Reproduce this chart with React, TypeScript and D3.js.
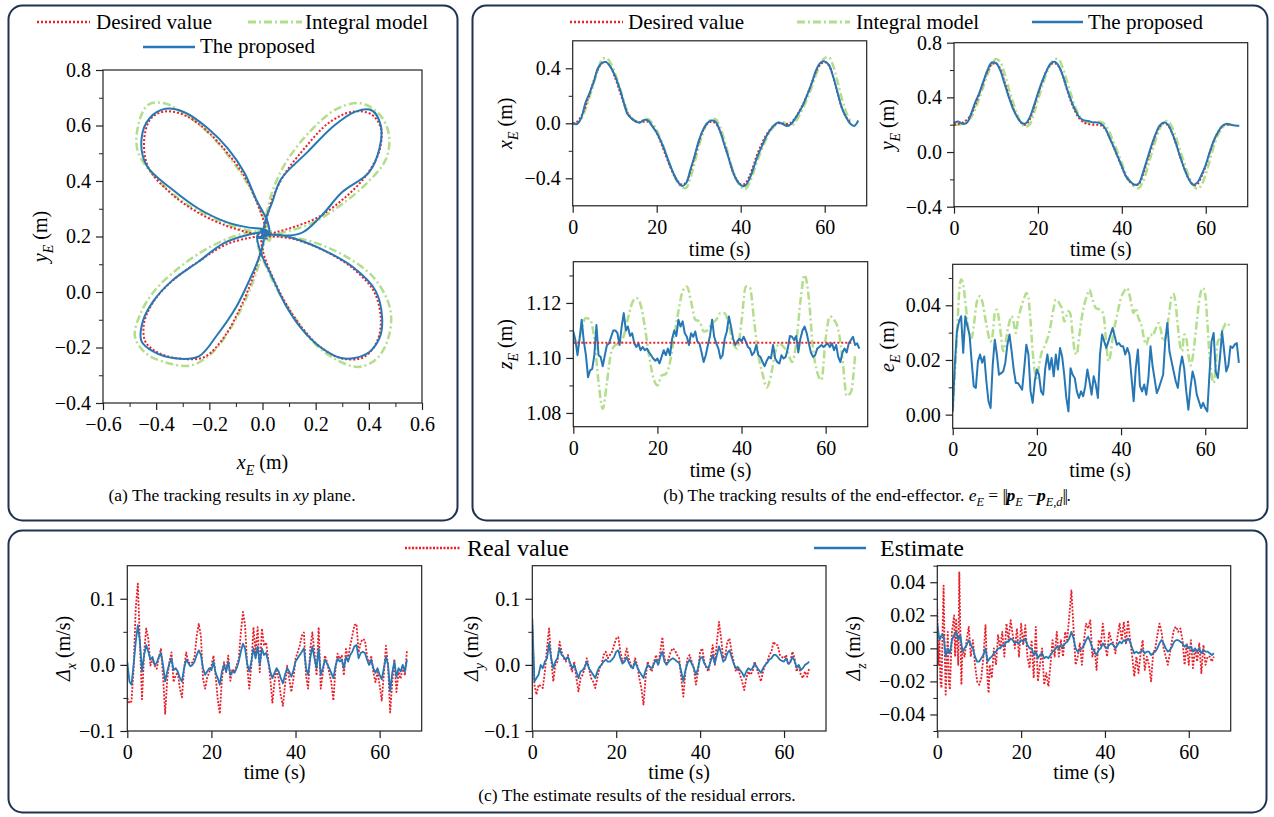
import React, { useEffect, useRef } from 'react';
import * as d3 from 'd3';

const FONT = 'Liberation Serif, DejaVu Serif, serif';
const RED = '#e8202a';
const GREEN = '#b3de8c';
const BLUE = '#2677b5';
const NAVY = '#1e3354';

// ---- end-effector trajectory, one sample per second ----
const xDesired = [
  0.0, 0.01, 0.05, 0.12, 0.21, 0.31, 0.39, 0.44, 0.445, 0.41,
  0.34, 0.25, 0.16, 0.08, 0.035, 0.015, 0.008, 0.012, 0.01, -0.02,
  -0.07, -0.14, -0.22, -0.30, -0.37, -0.42, -0.445, -0.43, -0.35, -0.25,
  -0.14, -0.055, -0.005, 0.012, 0.0, -0.05, -0.14, -0.24, -0.34, -0.41,
  -0.445, -0.44, -0.39, -0.31, -0.22, -0.15, -0.09, -0.045, -0.015, 0.0,
  -0.002, -0.005, 0.005, 0.04, 0.09, 0.15, 0.22, 0.30, 0.38, 0.43,
  0.445, 0.42, 0.34, 0.23, 0.12, 0.05, 0.01,
];
const yDesired = [
  0.2, 0.205, 0.215, 0.235, 0.27, 0.34, 0.42, 0.51, 0.59, 0.64,
  0.65, 0.61, 0.52, 0.42, 0.33, 0.26, 0.215, 0.2, 0.235, 0.32,
  0.42, 0.51, 0.59, 0.64, 0.65, 0.625, 0.55, 0.45, 0.36, 0.29,
  0.24, 0.215, 0.205, 0.2, 0.2, 0.195, 0.17, 0.11, 0.04, -0.035,
  -0.11, -0.18, -0.22, -0.24, -0.235, -0.17, -0.07, 0.03, 0.12, 0.185,
  0.21, 0.195, 0.135, 0.05, -0.045, -0.13, -0.2, -0.24, -0.235, -0.18,
  -0.1, 0.0, 0.085, 0.15, 0.19, 0.2, 0.2,
];
const xIntegral = [
  0.0, 0.0, 0.03, 0.1, 0.19, 0.29, 0.39, 0.465, 0.475, 0.44,
  0.37, 0.28, 0.18, 0.09, 0.04, 0.015, 0.01, 0.025, 0.03, 0.0,
  -0.05, -0.12, -0.2, -0.29, -0.37, -0.43, -0.465, -0.47, -0.4, -0.29,
  -0.17, -0.07, 0.0, 0.03, 0.03, -0.02, -0.11, -0.22, -0.33, -0.41,
  -0.46, -0.48, -0.44, -0.36, -0.27, -0.19, -0.12, -0.06, -0.02, 0.005,
  0.01, -0.01, -0.02, 0.01, 0.06, 0.12, 0.19, 0.27, 0.36, 0.43,
  0.475, 0.48, 0.42, 0.31, 0.19, 0.09, 0.02,
];
const yIntegral = [
  0.2, 0.2, 0.205, 0.22, 0.25, 0.31, 0.39, 0.48, 0.57, 0.64,
  0.68, 0.66, 0.58, 0.47, 0.37, 0.28, 0.215, 0.185, 0.2, 0.28,
  0.38, 0.48, 0.57, 0.64, 0.68, 0.675, 0.61, 0.51, 0.41, 0.32,
  0.26, 0.225, 0.215, 0.215, 0.22, 0.22, 0.2, 0.15, 0.075, 0.0,
  -0.08, -0.16, -0.22, -0.255, -0.265, -0.22, -0.13, -0.02, 0.08, 0.17,
  0.22, 0.225, 0.18, 0.1, 0.0, -0.09, -0.18, -0.24, -0.27, -0.24,
  -0.16, -0.06, 0.05, 0.13, 0.18, 0.2, 0.2,
];
const xProposed = [
  0.0, -0.005, 0.036, 0.145, 0.22, 0.30, 0.40, 0.44, 0.445, 0.41,
  0.35, 0.27, 0.17, 0.07, 0.036, 0.012, 0.005, 0.024, 0.02, -0.024,
  -0.068, -0.13, -0.206, -0.29, -0.364, -0.424, -0.455, -0.436, -0.34, -0.24,
  -0.13, -0.05, 0.0, 0.02, 0.012, -0.05, -0.145, -0.24, -0.34, -0.41,
  -0.45, -0.455, -0.41, -0.33, -0.24, -0.17, -0.1, -0.05, -0.012, 0.005,
  -0.005, -0.02, -0.005, 0.036, 0.085, 0.145, 0.22, 0.30, 0.39, 0.44,
  0.45, 0.425, 0.34, 0.23, 0.12, 0.05, 0.0, -0.02, 0.02,
];
const yProposed = [
  0.212, 0.224, 0.207, 0.212, 0.273, 0.36, 0.43, 0.517, 0.60, 0.655,
  0.65, 0.60, 0.505, 0.407, 0.322, 0.26, 0.217, 0.207, 0.25, 0.334,
  0.43, 0.517, 0.59, 0.646, 0.66, 0.627, 0.553, 0.456, 0.37, 0.30,
  0.25, 0.232, 0.227, 0.217, 0.217, 0.207, 0.176, 0.11, 0.041, -0.032,
  -0.105, -0.178, -0.215, -0.239, -0.232, -0.154, -0.056, 0.041, 0.127, 0.193,
  0.217, 0.20, 0.139, 0.054, -0.044, -0.13, -0.20, -0.239, -0.224, -0.166,
  -0.093, 0.005, 0.09, 0.151, 0.193, 0.207, 0.20, 0.195, 0.193,
];

// ---- z_E and e_E ----
const zDesired = 1.1055;
const zIntegral = [
  1.107, 1.1047, 1.1108, 1.1145, 1.1139, 1.107, 1.0912, 1.0815, 1.0912, 1.102,
  1.1047, 1.1053, 1.108, 1.1145, 1.12, 1.1218, 1.1194, 1.1114, 1.101, 1.093,
  1.090, 1.0936, 1.0942, 1.0985, 1.108, 1.117, 1.1243, 1.126, 1.1206, 1.1139,
  1.1133, 1.1096, 1.1102, 1.1126, 1.1139, 1.1163, 1.1163, 1.112, 1.1053, 1.1034,
  1.1133, 1.126, 1.1255, 1.1133, 1.101, 1.0942, 1.0893, 1.0936, 1.102, 1.1053,
  1.104, 1.102, 1.0985, 1.1053, 1.1206, 1.1302, 1.1218, 1.1034, 1.0948, 1.092,
  1.107, 1.1151, 1.1139, 1.1102, 1.0998, 1.0862, 1.0875, 1.101,
];
// half-second samples
const zProposed = [
  1.1096, 1.1065, 1.101, 1.107, 1.1139, 1.106, 1.101, 1.093, 1.0955, 1.096,
  1.101, 1.112, 1.101, 1.1004, 1.097, 1.101, 1.1047, 1.1053, 1.1077, 1.110,
  1.110, 1.109, 1.1047, 1.1114, 1.1163, 1.110, 1.1114, 1.108, 1.109, 1.1053,
  1.104, 1.1053, 1.1028, 1.104, 1.1028, 1.1034, 1.102, 1.101, 1.0998, 1.099,
  1.0998, 1.098, 1.1004, 1.1028, 1.101, 1.1034, 1.101, 1.107, 1.110, 1.108,
  1.1139, 1.1114, 1.1133, 1.109, 1.1077, 1.1047, 1.109, 1.1077, 1.1096, 1.106,
  1.1053, 1.102, 1.0985, 1.101, 1.1047, 1.108, 1.1139, 1.1077, 1.1053, 1.1034,
  1.0998, 1.101, 1.107, 1.1096, 1.1151, 1.1114, 1.107, 1.1047, 1.106, 1.107,
  1.106, 1.1077, 1.106, 1.104, 1.1034, 1.101, 1.102, 1.1047, 1.101, 1.1004,
  1.0985, 1.097, 1.099, 1.1004, 1.0998, 1.1047, 1.0998, 1.0985, 1.098, 1.101,
  1.0998, 1.1004, 1.1034, 1.108, 1.1077, 1.1065, 1.108, 1.102, 1.107, 1.110,
  1.1114, 1.109, 1.1053, 1.102, 1.1004, 1.101, 1.1034, 1.104, 1.1047, 1.104,
  1.1047, 1.1053, 1.104, 1.1053, 1.1028, 1.1047, 1.1004, 1.0985, 1.102, 1.1034,
  1.102, 1.1053, 1.1065, 1.1077, 1.1047, 1.1053, 1.1034,
];
const eProposed = [
  0.0012, 0.018, 0.0305, 0.034, 0.036, 0.0226, 0.036, 0.0323, 0.0293, 0.0195,
  0.0104, 0.0098, 0.0195, 0.022, 0.019, 0.0213, 0.0122, 0.0049, 0.0024, 0.018,
  0.0274, 0.022, 0.0146, 0.0152, 0.0158, 0.019, 0.0256, 0.0293, 0.0232, 0.0165,
  0.0116, 0.0116, 0.0104, 0.0091, 0.017, 0.0256, 0.022, 0.0085, 0.0043, 0.0122,
  0.0165, 0.0146, 0.0085, 0.0073, 0.017, 0.022, 0.0165, 0.0207, 0.014, 0.022,
  0.0165, 0.0244, 0.0213, 0.0146, 0.0061, 0.0012, 0.017, 0.0146, 0.0134, 0.0085,
  0.0061, 0.0085, 0.0067, 0.0104, 0.0165, 0.0122, 0.0073, 0.014, 0.011, 0.0061,
  0.022, 0.0293, 0.0268, 0.0244, 0.0268, 0.0293, 0.0317, 0.0287, 0.0256, 0.0262,
  0.025, 0.025, 0.022, 0.0244, 0.022, 0.0134, 0.0049, 0.017, 0.0238, 0.0104,
  0.0085, 0.011, 0.0073, 0.0134, 0.025, 0.0177, 0.0128, 0.0079, 0.0098, 0.0122,
  0.0146, 0.0268, 0.0335, 0.0232, 0.0195, 0.0158, 0.0122, 0.0098, 0.017, 0.0213,
  0.017, 0.0085, 0.0018, 0.0098, 0.0158, 0.0128, 0.0073, 0.0049, 0.0024, 0.0043,
  0.0024, 0.0012, 0.0146, 0.0268, 0.0299, 0.0158, 0.0134, 0.0207, 0.0305, 0.0232,
  0.0158, 0.018, 0.025, 0.0244, 0.0256, 0.0262, 0.0189,
];
// [time, value]
const eIntegral: [number, number][] = [
  [0, 0.001], [0.5, 0.0146], [1, 0.028], [1.5, 0.0439], [2, 0.0494], [2.5, 0.0476], [3, 0.0415], [3.5, 0.034],
  [4, 0.0287], [4.5, 0.028], [5, 0.0323], [5.5, 0.039], [6, 0.0427], [6.5, 0.0433], [7, 0.0415], [8, 0.033],
  [9, 0.0268], [9.5, 0.0293], [10, 0.0372], [10.5, 0.0384], [11, 0.0348], [11.5, 0.0287], [12, 0.0232], [12.5, 0.0256],
  [13, 0.0305], [13.5, 0.034], [14, 0.036], [14.5, 0.0335], [15, 0.0299], [15.5, 0.0348], [16, 0.0378], [17, 0.0427],
  [17.5, 0.0445], [18, 0.0427], [18.5, 0.034], [19, 0.0232], [19.5, 0.0158], [20, 0.0134], [20.5, 0.018], [21, 0.022],
  [22, 0.0256], [23, 0.0305], [24, 0.039], [24.5, 0.0421], [25, 0.0415], [25.5, 0.0402], [26, 0.0384], [26.5, 0.034],
  [27, 0.036], [27.5, 0.0378], [28, 0.0366], [28.5, 0.0293], [29, 0.0232], [29.5, 0.022], [30, 0.028], [31, 0.0384],
  [32, 0.0439], [32.5, 0.0457], [33, 0.0433], [34, 0.039], [35, 0.0384], [35.5, 0.0378], [36, 0.0348], [36.5, 0.0256],
  [37, 0.0195], [37.5, 0.022], [38, 0.028], [39, 0.036], [40, 0.0427], [41, 0.0457], [41.5, 0.0463], [42, 0.0439],
  [43, 0.0372], [43.5, 0.039], [44, 0.036], [45, 0.0317], [45.5, 0.0274], [46, 0.0256], [46.5, 0.028], [47, 0.0293],
  [47.5, 0.0287], [48, 0.0305], [48.5, 0.0323], [49, 0.0335], [49.5, 0.0305], [50, 0.0268], [50.5, 0.028], [51, 0.0323],
  [51.5, 0.0378], [52, 0.0433], [52.5, 0.0441], [53, 0.0402], [53.5, 0.0323], [54, 0.0256], [54.5, 0.0232], [55, 0.0293],
  [55.5, 0.028], [56, 0.022], [56.5, 0.018], [57, 0.0207], [57.5, 0.0268], [58, 0.034], [58.5, 0.0409], [59, 0.0451],
  [59.5, 0.0463], [60, 0.0439], [60.5, 0.034], [61, 0.022], [61.5, 0.0146], [62, 0.0116], [62.5, 0.018], [63, 0.0268],
  [63.5, 0.028], [64, 0.0305], [64.5, 0.0323], [65, 0.0335], [65.5, 0.0329], [66, 0.0335],
];

// ---- residual errors, half-second samples ----
const dxReal = [
  -0.05, -0.058, -0.055, -0.006, 0.085, 0.123, 0.034, -0.052, 0.019, 0.055,
  0.039, -0.001, 0.009, -0.001, -0.006, 0.012, 0.024, -0.016, -0.074, -0.021,
  0.004, 0.019, -0.026, -0.016, -0.011, -0.036, -0.049, -0.006, 0.019, 0.004,
  0.002, 0.004, 0.012, 0.044, 0.062, 0.044, -0.021, -0.036, -0.019, -0.011,
  -0.001, 0.014, -0.016, -0.052, -0.074, -0.021, 0.004, -0.011, 0.014, -0.024,
  -0.006, -0.011, -0.001, 0.009, 0.049, 0.080, 0.06, -0.001, -0.036, -0.001,
  0.057, 0.019, 0.057, -0.011, 0.055, 0.029, 0.034, 0.009, -0.021, -0.057,
  -0.026, -0.006, -0.021, -0.046, -0.062, -0.031, -0.001, -0.021, -0.041, -0.021,
  0.009, 0.019, 0.029, 0.044, 0.049, -0.016, -0.036, 0.024, 0.049, 0.019,
  -0.016, 0.057, -0.036, -0.011, 0.014, 0.004, -0.011, -0.026, -0.054, -0.006,
  0.017, 0.009, 0.014, -0.016, 0.024, 0.009, 0.029, 0.044, 0.06, 0.062,
  0.019, 0.034, 0.039, 0.037, 0.014, -0.001, 0.014, -0.011, -0.026, -0.011,
  -0.031, -0.054, -0.014, 0.029, -0.001, -0.072, -0.026, 0.009, -0.041, -0.011,
  -0.021, -0.001, -0.016, 0.022,
];
const dxEst = [
  0.005, -0.025, -0.03, 0.0, 0.034, 0.06, 0.035, -0.01, 0.015, 0.03,
  0.02, 0.008, 0.012, 0.0, 0.003, 0.012, 0.018, 0.0, -0.025, -0.01,
  0.002, 0.01, -0.008, -0.005, -0.01, -0.02, -0.025, -0.005, 0.008, 0.003,
  -0.002, 0.0, 0.005, 0.015, 0.022, 0.015, -0.005, -0.015, -0.01, -0.005,
  -0.008, 0.005, -0.012, -0.02, -0.03, -0.01, 0.0, -0.01, 0.005, -0.015,
  -0.01, -0.012, -0.005, 0.005, 0.02, 0.032, 0.025, 0.002, -0.01, 0.005,
  0.025, 0.01, 0.028, 0.0, 0.025, 0.015, 0.018, 0.005, -0.01, -0.02,
  -0.012, -0.005, -0.01, -0.02, -0.028, -0.015, -0.005, -0.01, -0.018, -0.008,
  0.005, 0.01, 0.015, 0.02, 0.025, -0.005, -0.015, 0.01, 0.028, 0.01,
  -0.005, 0.025, -0.015, -0.005, 0.008, 0.002, -0.005, -0.012, -0.02, -0.002,
  0.01, 0.005, 0.008, -0.005, 0.012, 0.005, 0.015, 0.02, 0.028, 0.03,
  0.01, 0.018, 0.02, 0.018, 0.008, 0.0, 0.008, -0.005, -0.012, -0.005,
  -0.015, -0.022, -0.005, 0.012, 0.0, -0.04, -0.012, 0.005, -0.018, -0.005,
  -0.01, 0.0, -0.01, 0.008,
];
const dyReal = [
  0.06, -0.03, -0.045, -0.03, -0.032, -0.035, -0.01, 0.025, 0.055, 0.01,
  -0.025, 0.0, 0.005, 0.035, 0.02, 0.01, 0.005, 0.015, 0.0, -0.01,
  0.005, -0.02, -0.04, -0.02, -0.015, -0.005, 0.01, -0.005, -0.02, -0.025,
  -0.035, -0.02, -0.005, 0.0, 0.015, 0.02, 0.01, 0.015, 0.02, 0.03,
  0.04, 0.042, 0.02, 0.005, 0.01, 0.025, 0.01, 0.0, -0.005, 0.01,
  0.0, -0.02, -0.035, -0.06, -0.02, 0.005, -0.005, -0.01, 0.005, 0.015,
  0.0, 0.02, 0.042, 0.01, 0.0, 0.01, 0.02, 0.025, 0.022, 0.015,
  0.01, -0.02, -0.048, -0.01, 0.01, 0.015, 0.005, -0.005, -0.03, -0.01,
  0.02, 0.025, 0.005, -0.005, -0.01, 0.01, 0.03, 0.0, 0.035, 0.065,
  0.04, 0.01, 0.015, 0.035, 0.04, 0.02, 0.005, -0.01, -0.005, -0.015,
  -0.025, -0.038, -0.02, -0.01, -0.015, -0.01, 0.005, -0.005, -0.015, -0.025,
  -0.01, 0.0, 0.005, 0.015, 0.02, 0.035, 0.03, 0.03, 0.015, 0.012,
  0.01, 0.015, 0.0, 0.005, 0.02, 0.01, -0.01, 0.0, -0.015, -0.02,
  -0.01, -0.018, -0.005,
];
const dyEst = [
  0.07, -0.025, -0.02, -0.015, 0.0, -0.005, 0.005, 0.01, 0.032, 0.01,
  -0.005, 0.005, 0.01, 0.025, 0.015, 0.012, 0.008, 0.012, 0.003, -0.005,
  0.0, -0.01, -0.02, -0.01, -0.008, -0.003, 0.005, -0.005, -0.01, -0.015,
  -0.02, -0.01, -0.003, 0.0, 0.005, 0.008, 0.005, 0.005, 0.008, 0.012,
  0.02, 0.022, 0.01, 0.002, 0.005, 0.012, 0.003, -0.003, -0.005, 0.005,
  -0.003, -0.01, -0.015, -0.02, -0.008, 0.0, -0.003, -0.005, 0.002, 0.008,
  0.0, 0.012, 0.02, 0.005, 0.0, 0.005, 0.008, 0.01, 0.008, 0.005,
  0.003, -0.01, -0.025, -0.008, 0.003, 0.008, 0.002, -0.005, -0.015, -0.005,
  0.01, 0.012, 0.002, -0.003, -0.005, 0.005, 0.015, 0.002, 0.015, 0.028,
  0.018, 0.005, 0.008, 0.018, 0.022, 0.012, 0.002, -0.005, -0.003, -0.008,
  -0.012, -0.018, -0.01, -0.005, -0.008, -0.005, 0.002, -0.003, -0.008, -0.012,
  -0.005, 0.0, 0.003, 0.008, 0.01, 0.015, 0.015, 0.012, 0.008, 0.006,
  0.005, 0.01, 0.002, 0.004, 0.012, 0.006, -0.004, 0.0, -0.008, -0.005,
  0.0, 0.002, 0.005,
];
const dzReal: [number, number][] = [
  [0, 0.024], [0.25, -0.01], [0.5, 0.005], [0.75, -0.02], [1, -0.024], [1.25, 0.01], [1.5, 0.038], [1.75, 0.0],
  [2, -0.028], [2.5, 0.01], [2.75, -0.02], [3, -0.025], [3.5, 0.01], [4, 0.02], [4.25, -0.005], [4.5, 0.018],
  [5, -0.01], [5.25, 0.046], [5.5, 0.01], [5.75, -0.022], [6, 0.0], [6.5, -0.005], [7, 0.005], [7.5, 0.013],
  [8, -0.005], [8.5, 0.005], [9, -0.01], [9.5, -0.02], [10, -0.022], [10.5, -0.018], [11, -0.005], [11.5, 0.014],
  [12, -0.02], [12.25, -0.027], [12.5, -0.01], [13, -0.018], [13.5, 0.0], [14, -0.01], [14.5, 0.008], [15, 0.0],
  [15.5, 0.01], [16, -0.005], [16.5, 0.015], [17, 0.005], [17.5, 0.017], [18, 0.008], [18.5, 0.0], [19, 0.012],
  [19.5, -0.005], [20, 0.015], [20.5, 0.002], [21, 0.014], [21.5, -0.005], [22, -0.012], [22.5, 0.005], [23, -0.018],
  [23.5, 0.013], [24, -0.02], [24.5, -0.01], [25, 0.0], [25.5, -0.022], [26, -0.015], [26.5, -0.023], [27, -0.01],
  [27.5, 0.005], [28, -0.005], [28.5, 0.01], [29, -0.005], [29.5, 0.005], [30, -0.005], [30.5, 0.01], [31, 0.005],
  [31.5, 0.02], [32, 0.035], [32.5, 0.012], [33, -0.01], [33.5, -0.005], [34, 0.003], [34.5, -0.01], [35, 0.005],
  [35.5, 0.015], [36, 0.012], [36.5, 0.017], [37, -0.005], [37.5, 0.0], [38, -0.013], [38.5, 0.005], [39, 0.002],
  [39.5, 0.015], [40, 0.003], [40.5, -0.005], [41, 0.01], [41.5, 0.005], [42, 0.003], [42.5, -0.003], [43, 0.007],
  [43.5, 0.015], [44, 0.005], [44.5, 0.016], [45, 0.003], [45.5, 0.017], [46, 0.005], [46.5, -0.005], [47, -0.017],
  [47.5, -0.005], [48, -0.015], [48.5, -0.003], [49, 0.005], [49.5, -0.013], [50, -0.005], [50.5, -0.01], [51, -0.02],
  [51.5, -0.003], [52, 0.0], [52.5, 0.008], [53, 0.015], [53.5, 0.01], [54, 0.0], [54.5, -0.005], [55, -0.01],
  [55.5, -0.003], [56, 0.005], [56.5, 0.012], [57, 0.013], [57.5, 0.01], [58, 0.012], [58.5, 0.005], [59, -0.01],
  [59.5, 0.003], [60, -0.01], [60.5, 0.005], [61, -0.012], [61.5, 0.0], [62, -0.008], [62.5, 0.003], [63, -0.015],
  [63.5, 0.002], [64, -0.01], [64.5, -0.005], [65, -0.005], [65.5, -0.008], [66, -0.005],
];
const dzEst = [
  0.015, 0.005, 0.008, 0.008, -0.005, 0.0, -0.003, 0.005, 0.008, 0.01,
  0.005, 0.008, -0.002, 0.0, 0.002, 0.005, 0.002, 0.0, -0.005, -0.008,
  -0.008, -0.006, -0.004, 0.0, -0.008, -0.006, -0.005, -0.003, -0.002, 0.0,
  0.0, 0.002, 0.002, 0.004, 0.004, 0.006, 0.005, 0.003, 0.004, 0.003,
  0.005, 0.004, 0.006, 0.002, 0.0, 0.0, -0.004, -0.002, -0.006, -0.004,
  -0.003, -0.006, -0.005, -0.006, -0.004, -0.002, -0.001, 0.001, 0.0, 0.002,
  0.001, 0.003, 0.004, 0.006, 0.01, 0.006, 0.0, -0.002, -0.001, 0.0,
  0.002, 0.005, 0.007, 0.004, 0.0, -0.002, -0.004, -0.001, 0.0, 0.003,
  0.001, 0.0, 0.002, 0.003, 0.002, 0.0, 0.002, 0.004, 0.003, 0.005,
  0.004, 0.006, 0.004, 0.0, -0.003, -0.002, -0.003, -0.002, -0.001, -0.003,
  -0.002, -0.002, -0.004, -0.003, -0.002, 0.0, 0.003, 0.005, 0.003, 0.0,
  -0.002, -0.001, 0.001, 0.004, 0.005, 0.005, 0.004, 0.003, 0.001, 0.002,
  0.0, 0.001, -0.002, 0.0, -0.002, 0.0, -0.003, -0.001, -0.002, -0.002,
  -0.003, -0.004, -0.003,
];

// ---- ticks ----
const timeTicks = [0, 20, 40, 60];
const xyTicksX = [-0.6, -0.4, -0.2, 0, 0.2, 0.4, 0.6];
const xyMinorX = [-0.5, -0.3, -0.1, 0.1, 0.3, 0.5];
const xyTicksY = [-0.4, -0.2, 0, 0.2, 0.4, 0.6, 0.8];
const xyMinorY = [-0.3, -0.1, 0.1, 0.3, 0.5, 0.7];
const xeTicks = [-0.4, 0, 0.4];
const xeMinor = [-0.2, 0.2];
const yeTicks = [-0.4, 0, 0.4, 0.8];
const yeMinor = [-0.2, 0.2, 0.6];
const zeTicks = [1.08, 1.1, 1.12];
const zeMinor = [1.09, 1.11, 1.13];
const eeTicks = [0, 0.02, 0.04];
const eeMinor = [0.01, 0.03, 0.05];
const dTicks = [-0.1, 0, 0.1];
const dMinor = [-0.05, 0.05];
const dzTicks = [-0.04, -0.02, 0, 0.02, 0.04];
const dzMinor = [-0.05, -0.03, -0.01, 0.01, 0.03, 0.05];

type Pt = [number, number];
type Part = { t: string; i?: boolean; b?: boolean; sub?: boolean; ls?: number };
type Series = { pts: Pt[]; color: string; width: number; dash?: string; curve?: d3.CurveFactory };

const toPts = (vals: number[], step: number): Pt[] => vals.map((v, i) => [i * step, v]);

const desiredStyle = { color: RED, width: 2, dash: '2,2' };
const integralStyle = { color: GREEN, width: 2.5, dash: '8,3,2,3' };
const proposedStyle = { color: BLUE, width: 2 };

function rich(text: any, parts: Part[], size: number) {
  let inSub = false;
  parts.forEach((p) => {
    const ts = text.append('tspan').text(p.t);
    if (p.i) ts.attr('font-style', 'italic');
    if (p.b) ts.attr('font-weight', 'bold');
    if (p.ls !== undefined) ts.attr('letter-spacing', p.ls);
    if (p.sub) {
      ts.attr('font-size', size * 0.7);
      if (!inSub) ts.attr('dy', size * 0.28);
      inSub = true;
    } else if (inSub) {
      ts.attr('dy', -size * 0.28);
      inSub = false;
    }
  });
}

type AxesCfg = {
  x0: number; x1: number; y0: number; y1: number;
  xDomain: [number, number]; yDomain: [number, number];
  xTicks: number[]; yTicks: number[]; xMinor?: number[]; yMinor?: number[];
  xFmt: string; yFmt: string;
  xLabel: Part[]; yLabel: Part[]; yLabelX: number; xLabelY: number;
  series: Series[];
};

let clipCount = 0;

function drawAxes(svg: any, c: AxesCfg) {
  const w = c.x1 - c.x0;
  const h = c.y1 - c.y0;
  const xs = d3.scaleLinear().domain(c.xDomain).range([0, w]);
  const ys = d3.scaleLinear().domain(c.yDomain).range([h, 0]);
  const g = svg.append('g').attr('transform', `translate(${c.x0},${c.y0})`);

  const id = `clip-${clipCount++}`;
  g.append('clipPath').attr('id', id).append('rect').attr('width', w).attr('height', h);
  const plot = g.append('g').attr('clip-path', `url(#${id})`);
  c.series.forEach((s) => {
    const line = d3.line<Pt>()
      .x((d) => xs(d[0]))
      .y((d) => ys(d[1]))
      .curve(s.curve || d3.curveLinear);
    plot.append('path')
      .datum(s.pts)
      .attr('d', line)
      .attr('fill', 'none')
      .attr('stroke', s.color)
      .attr('stroke-width', s.width)
      .attr('stroke-dasharray', s.dash || null)
      .attr('stroke-linejoin', 'round');
  });

  g.append('rect')
    .attr('width', w).attr('height', h)
    .attr('fill', 'none').attr('stroke', '#222').attr('stroke-width', 1.2);

  const fs = 20;
  const xa = g.append('g').attr('transform', `translate(0,${h})`)
    .call(d3.axisBottom(xs).tickValues(c.xTicks).tickFormat(d3.format(c.xFmt) as any).tickSize(7).tickPadding(28 - 7 - 0.71 * fs));
  xa.select('.domain').remove();
  xa.attr('font-family', FONT).attr('font-size', fs);
  xa.selectAll('line').attr('stroke', '#222').attr('stroke-width', 1.2);

  const ya = g.append('g')
    .call(d3.axisLeft(ys).tickValues(c.yTicks).tickFormat(d3.format(c.yFmt) as any).tickSize(7).tickPadding(5));
  ya.select('.domain').remove();
  ya.attr('font-family', FONT).attr('font-size', fs);
  ya.selectAll('line').attr('stroke', '#222').attr('stroke-width', 1.2);

  if (c.xMinor) {
    const xm = g.append('g').attr('transform', `translate(0,${h})`)
      .call(d3.axisBottom(xs).tickValues(c.xMinor).tickFormat(() => '').tickSize(4));
    xm.select('.domain').remove();
    xm.selectAll('line').attr('stroke', '#222');
  }
  if (c.yMinor) {
    const ym = g.append('g')
      .call(d3.axisLeft(ys).tickValues(c.yMinor).tickFormat(() => '').tickSize(4));
    ym.select('.domain').remove();
    ym.selectAll('line').attr('stroke', '#222');
  }

  const lfs = 20;
  const xl = svg.append('text')
    .attr('x', c.x0 + w / 2).attr('y', c.xLabelY)
    .attr('text-anchor', 'middle').attr('font-family', FONT).attr('font-size', lfs);
  rich(xl, c.xLabel, lfs);
  const yl = svg.append('text')
    .attr('transform', `translate(${c.yLabelX},${c.y0 + h / 2}) rotate(-90)`)
    .attr('text-anchor', 'middle').attr('font-family', FONT).attr('font-size', lfs);
  rich(yl, c.yLabel, lfs);
}

function legendItem(svg: any, lx0: number, lx1: number, ly: number, tx: number, base: number,
  label: string, st: { color: string; width: number; dash?: string }, fs: number) {
  svg.append('line')
    .attr('x1', lx0).attr('x2', lx1).attr('y1', ly).attr('y2', ly)
    .attr('stroke', st.color).attr('stroke-width', st.width + 0.5)
    .attr('stroke-dasharray', st.dash || null);
  svg.append('text')
    .attr('x', tx).attr('y', base)
    .attr('font-family', FONT).attr('font-size', fs)
    .text(label);
}

const timeLabel: Part[] = [{ t: 'time (s)' }];
const mLabel = (v: string): Part[] => [{ t: v, i: true }, { t: 'E', i: true, sub: true }, { t: ' (m)' }];
const dLabel = (v: string): Part[] => [{ t: 'Δ', i: true }, { t: v, i: true, sub: true }, { t: ' (m/s)' }];

export default function App() {
  const ref = useRef<SVGSVGElement>(null);

  useEffect(() => {
    document.body.style.margin = '0';
    const svg = d3.select(ref.current);
    svg.selectAll('*').remove();
    clipCount = 0;

    // panel frames
    const frames = [
      [8.5, 5.5, 449, 515],
      [472.5, 5.5, 795, 515],
      [8.5, 530.5, 1258, 282],
    ];
    frames.forEach(([x, y, w, h]) => {
      svg.append('rect').attr('x', x).attr('y', y).attr('width', w).attr('height', h)
        .attr('rx', 14).attr('fill', 'none').attr('stroke', NAVY).attr('stroke-width', 2);
    });

    const smooth = d3.curveCatmullRom;

    // (a) xy plane
    drawAxes(svg, {
      x0: 103, x1: 422, y0: 70, y1: 403,
      xDomain: [-0.6, 0.6], yDomain: [-0.4, 0.8],
      xTicks: xyTicksX, yTicks: xyTicksY, xMinor: xyMinorX, yMinor: xyMinorY,
      xFmt: '.1f', yFmt: '.1f',
      xLabel: mLabel('x'), yLabel: mLabel('y'), yLabelX: 47, xLabelY: 469,
      series: [
        { pts: d3.zip(xIntegral, yIntegral) as Pt[], ...integralStyle, curve: smooth },
        { pts: d3.zip(xDesired, yDesired) as Pt[], ...desiredStyle, curve: smooth },
        { pts: d3.zip(xProposed, yProposed) as Pt[], ...proposedStyle, curve: smooth },
      ],
    });

    // (b) x_E
    drawAxes(svg, {
      x0: 572.7, x1: 866.7, y0: 40.8, y1: 205.8,
      xDomain: [0, 70], yDomain: [-0.6, 0.6],
      xTicks: timeTicks, yTicks: xeTicks, yMinor: xeMinor,
      xFmt: 'd', yFmt: '.1f',
      xLabel: timeLabel, yLabel: mLabel('x'), yLabelX: 512, xLabelY: 256,
      series: [
        { pts: toPts(xIntegral, 1), ...integralStyle, curve: smooth },
        { pts: toPts(xDesired, 1), ...desiredStyle, curve: smooth },
        { pts: toPts(xProposed, 1), ...proposedStyle, curve: smooth },
      ],
    });

    // (b) y_E
    drawAxes(svg, {
      x0: 954, x1: 1247.7, y0: 42.7, y1: 206.7,
      xDomain: [0, 70], yDomain: [-0.4, 0.8],
      xTicks: timeTicks, yTicks: yeTicks, yMinor: yeMinor,
      xFmt: 'd', yFmt: '.1f',
      xLabel: timeLabel, yLabel: mLabel('y'), yLabelX: 894, xLabelY: 256,
      series: [
        { pts: toPts(yIntegral, 1), ...integralStyle, curve: smooth },
        { pts: toPts(yDesired, 1), ...desiredStyle, curve: smooth },
        { pts: toPts(yProposed, 1), ...proposedStyle, curve: smooth },
      ],
    });

    // (b) z_E
    drawAxes(svg, {
      x0: 573.3, x1: 867.7, y0: 261.7, y1: 426.7,
      xDomain: [0, 70], yDomain: [1.075, 1.135],
      xTicks: timeTicks, yTicks: zeTicks, yMinor: zeMinor,
      xFmt: 'd', yFmt: '.2f',
      xLabel: timeLabel, yLabel: mLabel('z'), yLabelX: 512, xLabelY: 477,
      series: [
        { pts: toPts(zIntegral, 1), ...integralStyle, curve: d3.curveMonotoneX },
        { pts: toPts(zProposed, 0.5), ...proposedStyle },
        { pts: [[0, zDesired], [66.5, zDesired]], ...desiredStyle },
      ],
    });

    // (b) e_E
    drawAxes(svg, {
      x0: 952.7, x1: 1247.3, y0: 264.3, y1: 428.3,
      xDomain: [0, 70], yDomain: [-0.005, 0.055],
      xTicks: timeTicks, yTicks: eeTicks, yMinor: eeMinor,
      xFmt: 'd', yFmt: '.2f',
      xLabel: timeLabel, yLabel: mLabel('e'), yLabelX: 894, xLabelY: 477,
      series: [
        { pts: eIntegral, ...integralStyle, curve: d3.curveMonotoneX },
        { pts: toPts(eProposed, 0.5), ...proposedStyle },
      ],
    });

    // (c) residual errors
    const realStyle = { color: RED, width: 1.8, dash: '2,1.5' };
    const estStyle = { color: BLUE, width: 1.8 };
    drawAxes(svg, {
      x0: 127.3, x1: 421.7, y0: 565.7, y1: 731,
      xDomain: [0, 70], yDomain: [-0.1, 0.15],
      xTicks: timeTicks, yTicks: dTicks, yMinor: dMinor,
      xFmt: 'd', yFmt: '.1f',
      xLabel: timeLabel, yLabel: dLabel('x'), yLabelX: 70, xLabelY: 779,
      series: [
        { pts: toPts(dxReal, 0.5), ...realStyle },
        { pts: toPts(dxEst, 0.5), ...estStyle },
      ],
    });
    drawAxes(svg, {
      x0: 532.3, x1: 826, y0: 565.7, y1: 731,
      xDomain: [0, 70], yDomain: [-0.1, 0.15],
      xTicks: timeTicks, yTicks: dTicks, yMinor: dMinor,
      xFmt: 'd', yFmt: '.1f',
      xLabel: timeLabel, yLabel: dLabel('y'), yLabelX: 478, xLabelY: 779,
      series: [
        { pts: toPts(dyReal, 0.5), ...realStyle },
        { pts: toPts(dyEst, 0.5), ...estStyle },
      ],
    });
    drawAxes(svg, {
      x0: 937.3, x1: 1230.7, y0: 565.7, y1: 731,
      xDomain: [0, 70], yDomain: [-0.05, 0.05],
      xTicks: timeTicks, yTicks: dzTicks, yMinor: dzMinor,
      xFmt: 'd', yFmt: '.2f',
      xLabel: timeLabel, yLabel: dLabel('z'), yLabelX: 860, xLabelY: 779,
      series: [
        { pts: dzReal, ...realStyle },
        { pts: toPts(dzEst, 0.5), ...estStyle },
      ],
    });

    // legends
    legendItem(svg, 37, 90, 22, 96, 29, 'Desired value', desiredStyle, 21);
    legendItem(svg, 248, 302, 22, 305, 29, 'Integral model', integralStyle, 21);
    legendItem(svg, 143, 195, 47, 200, 53, 'The proposed', proposedStyle, 21);

    legendItem(svg, 570, 623, 22, 628, 29, 'Desired value', desiredStyle, 21);
    legendItem(svg, 797, 850, 22, 856, 29, 'Integral model', integralStyle, 21);
    legendItem(svg, 1032, 1083, 22, 1088, 29, 'The proposed', proposedStyle, 21);

    legendItem(svg, 405, 460, 548, 467, 556, 'Real value', realStyle, 24);
    legendItem(svg, 814, 866, 548, 880, 556, 'Estimate', estStyle, 24);

    // captions
    const cfs = 17.5;
    const capA = svg.append('text').attr('x', 232).attr('y', 501)
      .attr('text-anchor', 'middle').attr('font-family', FONT).attr('font-size', cfs);
    rich(capA, [{ t: '(a) The tracking results in ' }, { t: 'xy', i: true }, { t: ' plane.' }], cfs);

    const capB = svg.append('text').attr('x', 867).attr('y', 501)
      .attr('text-anchor', 'middle').attr('font-family', FONT).attr('font-size', cfs);
    rich(capB, [
      { t: '(b) The tracking results of the end-effector. ' },
      { t: 'e', i: true }, { t: 'E', i: true, sub: true },
      { t: ' = ' },
      { t: '||', ls: -1.5 },
      { t: 'p', i: true, b: true }, { t: 'E', i: true, sub: true },
      { t: ' \u2212' },
      { t: 'p', i: true, b: true }, { t: 'E,d', i: true, sub: true },
      { t: '||', ls: -1.5 },
      { t: '.' },
    ], cfs);

    const capC = svg.append('text').attr('x', 637).attr('y', 801)
      .attr('text-anchor', 'middle').attr('font-family', FONT).attr('font-size', cfs);
    rich(capC, [{ t: '(c) The estimate results of the residual errors.' }], cfs);
  }, []);

  return <svg ref={ref} width={1274} height={817} style={{ display: 'block', background: '#fff' }} />;
}
